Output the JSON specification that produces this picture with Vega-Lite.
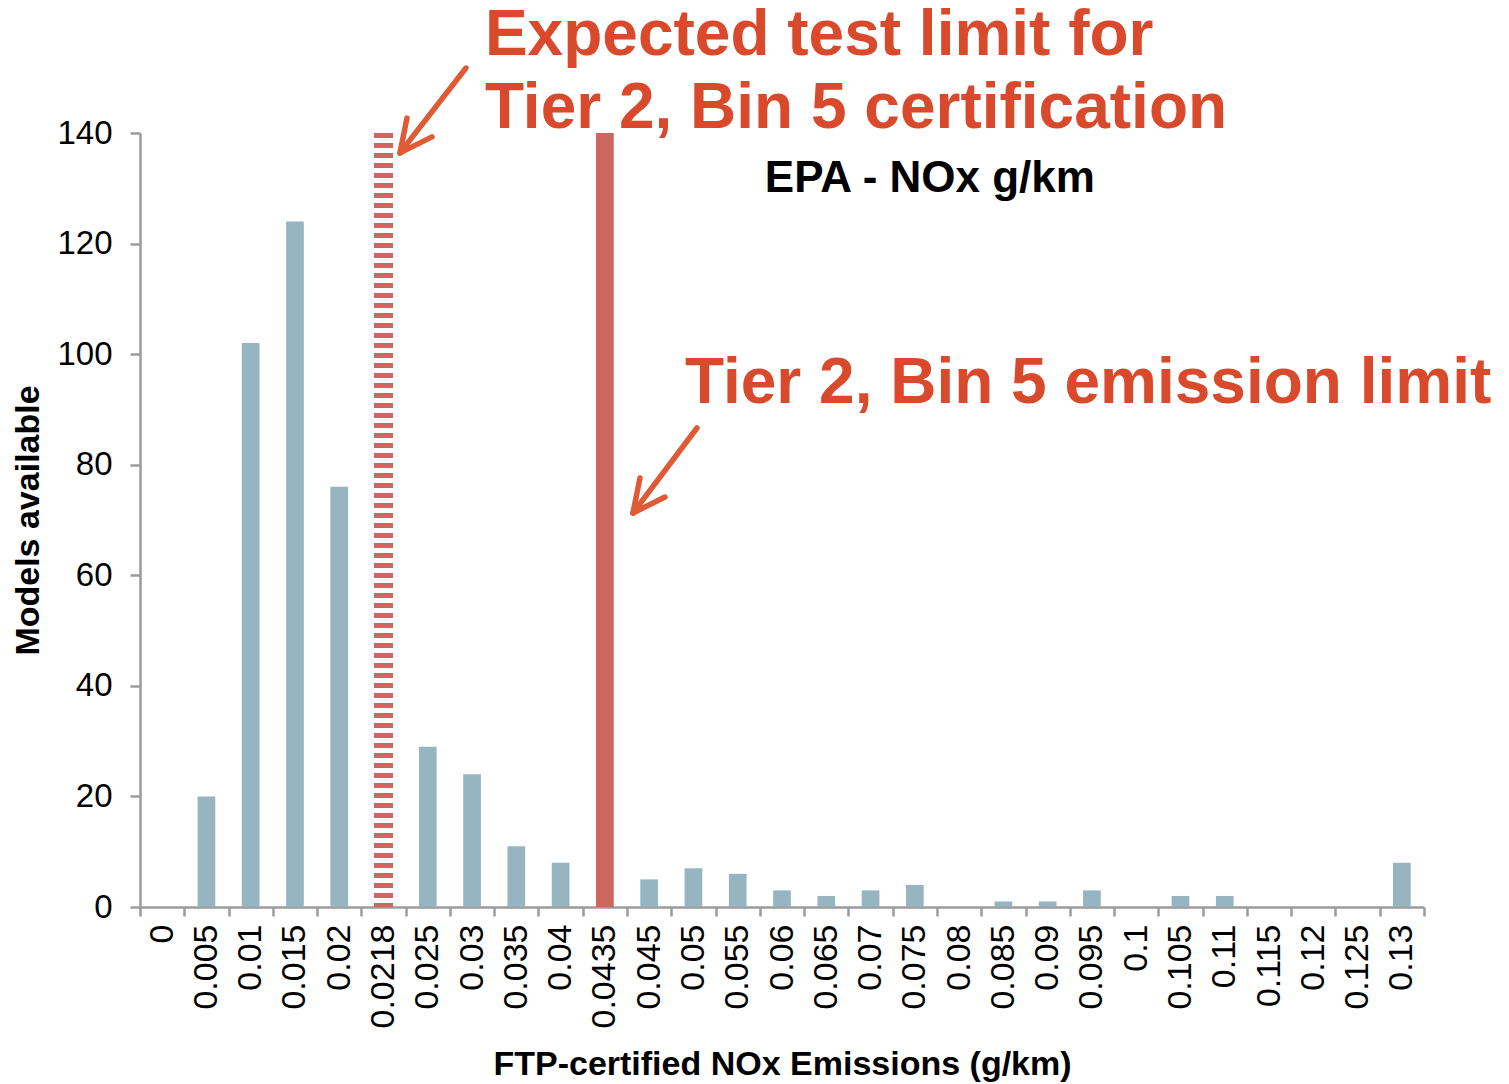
{
  "$schema": "https://vega.github.io/schema/vega-lite/v6.json",
  "width": 1284,
  "height": 774,
  "autosize": {"type": "none"},
  "padding": {"left": 140, "top": 133, "right": 85, "bottom": 177},
  "background": "white",
  "config": {
    "view": {"stroke": null},
    "font": "Liberation Sans"
  },
  "datasets": {
    "counts": [
      {"nox": "0", "models": 0, "kind": "models"},
      {"nox": "0.005", "models": 20, "kind": "models"},
      {"nox": "0.01", "models": 102, "kind": "models"},
      {"nox": "0.015", "models": 124, "kind": "models"},
      {"nox": "0.02", "models": 76, "kind": "models"},
      {"nox": "0.0218", "models": 140, "kind": "test limit"},
      {"nox": "0.025", "models": 29, "kind": "models"},
      {"nox": "0.03", "models": 24, "kind": "models"},
      {"nox": "0.035", "models": 11, "kind": "models"},
      {"nox": "0.04", "models": 8, "kind": "models"},
      {"nox": "0.0435", "models": 140, "kind": "emission limit"},
      {"nox": "0.045", "models": 5, "kind": "models"},
      {"nox": "0.05", "models": 7, "kind": "models"},
      {"nox": "0.055", "models": 6, "kind": "models"},
      {"nox": "0.06", "models": 3, "kind": "models"},
      {"nox": "0.065", "models": 2, "kind": "models"},
      {"nox": "0.07", "models": 3, "kind": "models"},
      {"nox": "0.075", "models": 4, "kind": "models"},
      {"nox": "0.08", "models": 0, "kind": "models"},
      {"nox": "0.085", "models": 1, "kind": "models"},
      {"nox": "0.09", "models": 1, "kind": "models"},
      {"nox": "0.095", "models": 3, "kind": "models"},
      {"nox": "0.1", "models": 0, "kind": "models"},
      {"nox": "0.105", "models": 2, "kind": "models"},
      {"nox": "0.11", "models": 2, "kind": "models"},
      {"nox": "0.115", "models": 0, "kind": "models"},
      {"nox": "0.12", "models": 0, "kind": "models"},
      {"nox": "0.125", "models": 0, "kind": "models"},
      {"nox": "0.13", "models": 8, "kind": "models"}
    ],
    "arrows": [
      {"u": 7.362, "v": 151.75, "u2": 5.872, "v2": 136.4},
      {"u": 6.03, "v": 142.7, "u2": 5.872, "v2": 136.4},
      {"u": 6.594, "v": 139.3, "u2": 5.872, "v2": 136.4},
      {"u": 12.579, "v": 86.64, "u2": 11.134, "v2": 71.27},
      {"u": 11.292, "v": 77.6, "u2": 11.134, "v2": 71.27},
      {"u": 11.857, "v": 74.16, "u2": 11.134, "v2": 71.27}
    ],
    "callouts": [
      {"u": 7.79, "v": 154.1, "label": "Expected test limit for"},
      {"u": 7.79, "v": 140.9, "label": "Tier 2, Bin 5 certification"},
      {"u": 12.31, "v": 91.16, "label": "Tier 2, Bin 5 emission limit"}
    ],
    "heading": [
      {"u": 17.84, "v": 129.3, "label": "EPA - NOx g/km"}
    ]
  },
  "layer": [
    {
      "data": {"name": "counts"},
      "encoding": {
        "x": {
          "field": "nox",
          "type": "nominal",
          "sort": null,
          "scale": {
            "domain": ["0", "0.005", "0.01", "0.015", "0.02", "0.0218", "0.025", "0.03", "0.035", "0.04", "0.0435", "0.045", "0.05", "0.055", "0.06", "0.065", "0.07", "0.075", "0.08", "0.085", "0.09", "0.095", "0.1", "0.105", "0.11", "0.115", "0.12", "0.125", "0.13"],
            "paddingInner": 0,
            "paddingOuter": 0
          },
          "axis": {
            "title": "FTP-certified NOx Emissions (g/km)",
            "titleFont": "Liberation Sans",
            "titleFontSize": 34,
            "titleFontWeight": "bold",
            "titleColor": "black",
            "titlePadding": 20,
            "labelAngle": -90,
            "labelFont": "Liberation Sans",
            "labelFontSize": 34,
            "labelColor": "black",
            "labelPadding": 8,
            "labelOverlap": false,
            "domainColor": "#9b9b9b",
            "domainWidth": 2.5,
            "tickColor": "#9b9b9b",
            "tickWidth": 2.5,
            "tickSize": 9,
            "tickBand": "extent"
          }
        },
        "y": {
          "field": "models",
          "type": "quantitative",
          "scale": {"domain": [0, 140], "nice": false},
          "axis": {
            "title": "Models available",
            "titleFont": "Liberation Sans",
            "titleFontSize": 34,
            "titleFontWeight": "bold",
            "titleColor": "black",
            "titlePadding": 11,
            "values": [0, 20, 40, 60, 80, 100, 120, 140],
            "grid": false,
            "labelFont": "Liberation Sans",
            "labelFontSize": 33,
            "labelColor": "black",
            "labelPadding": 18,
            "domainColor": "#9b9b9b",
            "domainWidth": 2.5,
            "tickColor": "#9b9b9b",
            "tickWidth": 2.5,
            "tickSize": 10
          }
        }
      },
      "layer": [
        {
          "transform": [{"filter": "datum.kind !== 'test limit'"}],
          "mark": {"type": "bar", "width": {"band": 0.4}},
          "encoding": {
            "color": {
              "field": "kind",
              "type": "nominal",
              "scale": {"domain": ["models", "emission limit"], "range": ["#97b5c0", "#cd665f"]},
              "legend": null
            }
          }
        },
        {
          "transform": [{"filter": "datum.kind === 'test limit'"}],
          "mark": {"type": "rule", "color": "#cd665f", "strokeWidth": 19, "strokeDash": [5, 5], "strokeCap": "butt"},
          "encoding": {
            "y2": {"datum": 0}
          }
        }
      ]
    },
    {
      "data": {"name": "arrows"},
      "mark": {"type": "rule", "color": "#df5b35", "strokeWidth": 5.5, "strokeCap": "round"},
      "encoding": {
        "x": {"field": "u", "type": "quantitative", "scale": {"domain": [0, 29], "nice": false, "zero": false}, "axis": null},
        "x2": {"field": "u2"},
        "y": {"field": "v", "type": "quantitative", "scale": {"domain": [0, 140], "nice": false}, "axis": null},
        "y2": {"field": "v2"}
      }
    },
    {
      "data": {"name": "callouts"},
      "mark": {"type": "text", "color": "#d84a2b", "font": "Liberation Sans", "fontSize": 64, "fontWeight": "bold", "align": "left", "baseline": "alphabetic"},
      "encoding": {
        "x": {"field": "u", "type": "quantitative", "scale": {"domain": [0, 29], "nice": false, "zero": false}, "axis": null},
        "y": {"field": "v", "type": "quantitative", "scale": {"domain": [0, 140], "nice": false}, "axis": null},
        "text": {"field": "label"}
      }
    },
    {
      "data": {"name": "heading"},
      "mark": {"type": "text", "color": "black", "font": "Liberation Sans", "fontSize": 44, "fontWeight": "bold", "align": "center", "baseline": "alphabetic"},
      "encoding": {
        "x": {"field": "u", "type": "quantitative", "scale": {"domain": [0, 29], "nice": false, "zero": false}, "axis": null},
        "y": {"field": "v", "type": "quantitative", "scale": {"domain": [0, 140], "nice": false}, "axis": null},
        "text": {"field": "label"}
      }
    }
  ],
  "resolve": {"scale": {"x": "independent", "y": "independent"}}
}
